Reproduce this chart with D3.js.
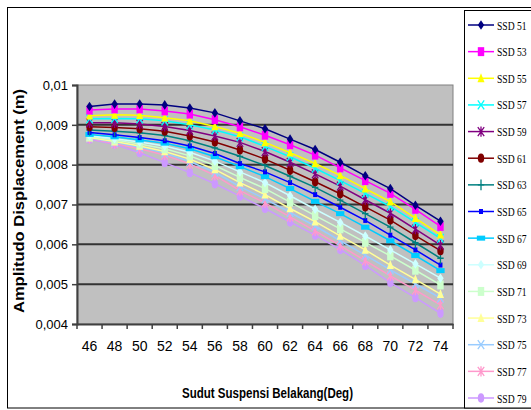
<!DOCTYPE html>
<html>
<head>
<meta charset="utf-8">
<script src="https://cdn.jsdelivr.net/npm/d3@7"></script>
<style>
  body { margin: 0; background: #fff; }
  svg { display: block; }
  .tick text { font-family: "Liberation Sans Narrow", "Arial Narrow", "Liberation Sans", sans-serif; fill: #000; }
  .title { font-family: "Liberation Sans", Arial, sans-serif; font-weight: bold; font-size: 14px; }
  .leg text { font-family: "Liberation Serif", serif; font-size: 13px; }
</style>
</head>
<body>
<div id="chart"></div>
<script>
  const categories = [46, 48, 50, 52, 54, 56, 58, 60, 62, 64, 66, 68, 70, 72, 74];
  const yTicks = [0.004, 0.005, 0.006, 0.007, 0.008, 0.009, 0.01];
  const seriesNames = ["SSD 51", "SSD 53", "SSD 55", "SSD 57", "SSD 59", "SSD 61", "SSD 63", "SSD 65",
                       "SSD 67", "SSD 69", "SSD 71", "SSD 73", "SSD 75", "SSD 77", "SSD 79"];

  const ssd51 = [0.00946, 0.00952, 0.00952, 0.00950, 0.00942, 0.00930, 0.00910, 0.00890, 0.00864, 0.00838, 0.00806, 0.00772, 0.00740, 0.00698, 0.00658];
  const ssd53 = [0.00937, 0.00940, 0.00940, 0.00935, 0.00927, 0.00913, 0.00895, 0.00874, 0.00850, 0.00824, 0.00792, 0.00760, 0.00728, 0.00688, 0.00645];
  const ssd55 = [0.00923, 0.00925, 0.00924, 0.00918, 0.00910, 0.00896, 0.00879, 0.00856, 0.00830, 0.00803, 0.00773, 0.00740, 0.00707, 0.00666, 0.00624];
  const ssd57 = [0.00915, 0.00916, 0.00915, 0.00910, 0.00900, 0.00887, 0.00870, 0.00846, 0.00820, 0.00791, 0.00760, 0.00728, 0.00695, 0.00655, 0.00615];
  const ssd59 = [0.00905, 0.00905, 0.00902, 0.00896, 0.00886, 0.00872, 0.00856, 0.00833, 0.00806, 0.00777, 0.00746, 0.00712, 0.00678, 0.00638, 0.00598];
  const ssd61 = [0.00895, 0.00893, 0.00890, 0.00884, 0.00872, 0.00857, 0.00837, 0.00814, 0.00786, 0.00757, 0.00727, 0.00694, 0.00661, 0.00622, 0.00584];
  const ssd63 = [0.00887, 0.00884, 0.00880, 0.00873, 0.00860, 0.00842, 0.00821, 0.00798, 0.00771, 0.00743, 0.00711, 0.00677, 0.00643, 0.00604, 0.00565];
  const ssd65 = [0.00881, 0.00875, 0.00868, 0.00860, 0.00847, 0.00828, 0.00803, 0.00782, 0.00755, 0.00725, 0.00693, 0.00660, 0.00623, 0.00586, 0.00548];
  const ssd67 = [0.00876, 0.00870, 0.00862, 0.00854, 0.00840, 0.00820, 0.00795, 0.00770, 0.00740, 0.00708, 0.00677, 0.00643, 0.00609, 0.00572, 0.00534];
  const ssd69 = [0.00873, 0.00865, 0.00857, 0.00847, 0.00831, 0.00809, 0.00782, 0.00755, 0.00722, 0.00688, 0.00655, 0.00621, 0.00586, 0.00551, 0.00515];
  const ssd71 = [0.00871, 0.00862, 0.00852, 0.00840, 0.00822, 0.00798, 0.00768, 0.00740, 0.00706, 0.00672, 0.00639, 0.00605, 0.00571, 0.00535, 0.00498];
  const ssd73 = [0.00868, 0.00858, 0.00847, 0.00833, 0.00814, 0.00788, 0.00755, 0.00725, 0.00690, 0.00657, 0.00621, 0.00586, 0.00548, 0.00512, 0.00475];
  const ssd75 = [0.00867, 0.00856, 0.00844, 0.00829, 0.00808, 0.00781, 0.00745, 0.00714, 0.00680, 0.00646, 0.00609, 0.00573, 0.00536, 0.00501, 0.00465];
  const ssd77 = [0.00866, 0.00853, 0.00840, 0.00824, 0.00802, 0.00773, 0.00735, 0.00704, 0.00669, 0.00634, 0.00597, 0.00559, 0.00521, 0.00485, 0.00448];
  const ssd79 = [0.00864, 0.00851, 0.00830, 0.00805, 0.00780, 0.00752, 0.00721, 0.00690, 0.00656, 0.00623, 0.00587, 0.00547, 0.00504, 0.00466, 0.00427];

  const allValues = [ssd51, ssd53, ssd55, ssd57, ssd59, ssd61, ssd63, ssd65, ssd67, ssd69, ssd71, ssd73, ssd75, ssd77, ssd79];
  const colors = ["#000080", "#FF00FF", "#FFFF00", "#00FFFF", "#800080", "#800000", "#008080", "#0000FF",
                  "#00CCFF", "#CCFFFF", "#CCFFCC", "#FFFF99", "#99CCFF", "#FF99CC", "#CC99FF"];
  const markers = ["diamond", "square", "triangle", "x", "star", "circle", "plus", "dash",
                   "longdash", "diamond", "square", "triangle", "x", "star", "circle"];

  const width = 531, height = 410;
  const plot = { left: 77, right: 453, top: 85, bottom: 324 };

  const svg = d3.select("#chart").append("svg")
    .attr("width", width)
    .attr("height", height);

  // outer chart frame
  svg.append("rect")
    .attr("x", 7.5).attr("y", 7.5)
    .attr("width", 560).attr("height", 400.5)
    .attr("fill", "#fff").attr("stroke", "#000").attr("stroke-width", 1);

  const x = d3.scaleBand()
    .domain(categories)
    .range([plot.left, plot.right])
    .padding(0);

  const y = d3.scaleLinear()
    .domain([0.004, 0.01])
    .range([plot.bottom, plot.top]);

  // plot area
  svg.append("rect")
    .attr("x", plot.left).attr("y", plot.top)
    .attr("width", plot.right - plot.left).attr("height", plot.bottom - plot.top)
    .attr("fill", "#C0C0C0").attr("stroke", "#808080").attr("stroke-width", 1);

  // gridlines
  svg.append("g")
    .selectAll("line")
    .data(yTicks.slice(1, -1))
    .join("line")
    .attr("x1", plot.left).attr("x2", plot.right)
    .attr("y1", d => y(d)).attr("y2", d => y(d))
    .attr("stroke", "#333").attr("stroke-width", 2);

  // y axis
  const yAxis = svg.append("g")
    .attr("transform", `translate(${plot.left},0)`)
    .call(d3.axisLeft(y).tickValues(yTicks).tickSize(5).tickPadding(4)
      .tickFormat(d => String(+d.toFixed(3)).replace(".", ",")));
  yAxis.select(".domain").attr("stroke", "#404040").attr("stroke-width", 2);
  yAxis.selectAll(".tick line").attr("stroke", "#404040").attr("stroke-width", 1.5);
  yAxis.selectAll(".tick text").attr("font-size", 13);

  // x axis: labels centred in categories, ticks on boundaries
  const xAxis = svg.append("g")
    .attr("transform", `translate(0,${plot.bottom})`)
    .call(d3.axisBottom(x).tickSize(0).tickPadding(17));
  xAxis.select(".domain").attr("stroke", "#404040").attr("stroke-width", 2);
  xAxis.selectAll(".tick text").attr("font-size", 14);

  const bounds = categories.map(c => x(c)).concat([x(categories[categories.length - 1]) + x.bandwidth()]);
  svg.append("g")
    .selectAll("line")
    .data(bounds)
    .join("line")
    .attr("x1", d => d).attr("x2", d => d)
    .attr("y1", plot.bottom).attr("y2", plot.bottom + 5)
    .attr("stroke", "#404040").attr("stroke-width", 1.5);

  // titles
  svg.append("text")
    .attr("class", "title")
    .attr("x", 182)
    .attr("y", 398)
    .attr("textLength", 171)
    .attr("lengthAdjust", "spacingAndGlyphs")
    .text("Sudut Suspensi Belakang(Deg)");

  svg.append("text")
    .attr("class", "title")
    .attr("transform", "translate(24,313) rotate(-90)")
    .attr("textLength", 224)
    .attr("lengthAdjust", "spacingAndGlyphs")
    .text("Amplitudo Displacement (m)");

  function drawMarker(g, type, color) {
    const s = 3.2;
    if (type === "diamond") {
      g.append("path").attr("d", `M0,${-s * 1.5}L${s},0L0,${s * 1.5}L${-s},0Z`).attr("fill", color);
    } else if (type === "square") {
      g.append("rect").attr("x", -s).attr("y", -s * 1.4).attr("width", 2 * s).attr("height", 2.8 * s).attr("fill", color);
    } else if (type === "triangle") {
      g.append("path").attr("d", `M0,${-s * 1.6}L${s * 1.1},${s * 1.2}L${-s * 1.1},${s * 1.2}Z`).attr("fill", color);
    } else if (type === "x") {
      g.append("path").attr("d", `M${-s},${-s * 1.4}L${s},${s * 1.4}M${s},${-s * 1.4}L${-s},${s * 1.4}`)
        .attr("stroke", color).attr("stroke-width", 1.3);
    } else if (type === "star") {
      g.append("path").attr("d", `M${-s},${-s * 1.4}L${s},${s * 1.4}M${s},${-s * 1.4}L${-s},${s * 1.4}M0,${-s * 1.6}L0,${s * 1.6}`)
        .attr("stroke", color).attr("stroke-width", 1.3);
    } else if (type === "circle") {
      g.append("ellipse").attr("rx", s).attr("ry", s * 1.45).attr("fill", color);
    } else if (type === "plus") {
      g.append("path").attr("d", `M${-s},0L${s},0M0,${-s * 1.7}L0,${s * 1.7}`)
        .attr("stroke", color).attr("stroke-width", 1.3);
    } else if (type === "dash") {
      g.append("rect").attr("x", -2).attr("y", -2.5).attr("width", 4).attr("height", 5).attr("fill", color);
    } else if (type === "longdash") {
      g.append("rect").attr("x", -s * 1.3).attr("y", -2.5).attr("width", s * 2.6).attr("height", 5).attr("fill", color);
    }
  }

  const line = d3.line()
    .x((d, i) => x(categories[i]) + x.bandwidth() / 2)
    .y(d => y(d));

  // draw last series first so the first ones sit on top
  const order = d3.range(allValues.length).reverse();
  order.forEach(k => {
    const vals = allValues[k];
    const g = svg.append("g");
    g.append("path")
      .datum(vals)
      .attr("d", line)
      .attr("fill", "none")
      .attr("stroke", colors[k])
      .attr("stroke-width", 1.5);
    vals.forEach((v, i) => {
      const mg = g.append("g")
        .attr("transform", `translate(${x(categories[i]) + x.bandwidth() / 2},${y(v)})`);
      drawMarker(mg, markers[k], colors[k]);
    });
  });

  // legend
  const legend = svg.append("g").attr("class", "leg");
  legend.append("rect")
    .attr("x", 464.5).attr("y", 10.5)
    .attr("width", 100).attr("height", 397.5)
    .attr("fill", "#fff").attr("stroke", "#000").attr("stroke-width", 1);

  const legY = d3.scalePoint()
    .domain(seriesNames)
    .range([25, 398]);

  seriesNames.forEach((name, k) => {
    const gy = legY(name);
    const row = legend.append("g").attr("transform", `translate(0,${gy})`);
    row.append("line")
      .attr("x1", 468).attr("x2", 494)
      .attr("stroke", colors[k]).attr("stroke-width", 1.5);
    drawMarker(row.append("g").attr("transform", "translate(481,0)"), markers[k], colors[k]);
    row.append("text")
      .attr("transform", "translate(497,4.5) scale(0.74,1)")
      .text(name);
  });
</script>
</body>
</html>
